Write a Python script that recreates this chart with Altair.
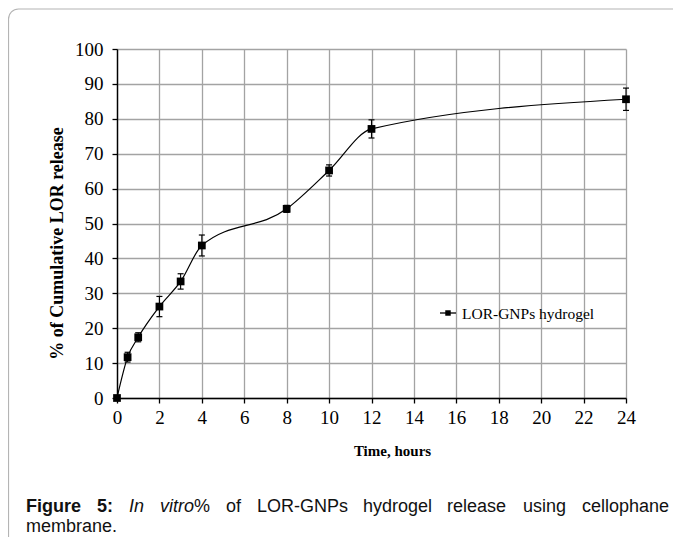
import altair as alt
import pandas as pd

# ---- data ----
time_h = [0, 0.5, 1, 2, 3, 4, 8, 10, 12, 24]
release_pct = [0, 11.7, 17.4, 26.2, 33.4, 43.7, 54.2, 65.2, 77.1, 85.6]
err_sd = [0, 1.4, 1.3, 2.9, 2.2, 3.0, 1.0, 1.6, 2.6, 3.2]
x_ticks = list(range(0, 25, 2))
y_ticks = list(range(0, 101, 10))
series_name = "LOR-GNPs hydrogel"
x_title = "Time, hours"
y_title = "% of Cumulative  LOR release"

df = pd.DataFrame({
    "t": time_h,
    "r": release_pct,
    "lo": [r - s for r, s in zip(release_pct, err_sd)],
    "hi": [r + s for r, s in zip(release_pct, err_sd)],
})
df_err = df[df["t"] > 0]
one = pd.DataFrame({"k": [0]})

SERIF = "Liberation Serif"
SANS = "Liberation Sans"
W, H = 509, 349

xs = alt.Scale(domain=[0, 24], nice=False, zero=False)
ys = alt.Scale(domain=[0, 100], nice=False)

x_axis = alt.Axis(values=x_ticks, grid=True, title=x_title, titleX=275, titleY=52,
                  titleBaseline="middle", titleAlign="center", titleAnchor="start",
                  labelFlush=False, labelOverlap=False, titleFontSize=15)
y_axis = alt.Axis(values=y_ticks, grid=True, title=y_title, titleX=-60, titleY=194,
                  titleBaseline="middle", titleAlign="center", titleAnchor="start",
                  labelFlush=False, labelOverlap=False, titleFontSize=18)

base = alt.Chart(df)

frame = alt.Chart(one).mark_rect(
    fillOpacity=0, stroke="#b4b4b4", strokeWidth=1.2, cornerRadius=10
).encode(x=alt.value(-108.5), x2=alt.value(700), y=alt.value(-40), y2=alt.value(620))

line = base.mark_line(interpolate="monotone", color="black", strokeWidth=1.2).encode(
    x=alt.X("t:Q", scale=xs, axis=x_axis),
    y=alt.Y("r:Q", scale=ys, axis=y_axis),
)

ebar = alt.Chart(df_err).mark_rule(color="black", strokeWidth=1.1).encode(
    x=alt.X("t:Q", scale=xs, axis=x_axis),
    y=alt.Y("lo:Q", scale=ys, axis=y_axis), y2="hi:Q")
cap_hi = alt.Chart(df_err).mark_tick(orient="horizontal", color="black", size=6,
                                     thickness=1.2, opacity=1).encode(
    x=alt.X("t:Q", scale=xs, axis=x_axis),
    y=alt.Y("hi:Q", scale=ys, axis=y_axis))
cap_lo = alt.Chart(df_err).mark_tick(orient="horizontal", color="black", size=6,
                                     thickness=1.2, opacity=1).encode(
    x=alt.X("t:Q", scale=xs, axis=x_axis),
    y=alt.Y("lo:Q", scale=ys, axis=y_axis))
pts = base.mark_square(color="black", size=60, opacity=1).encode(
    x=alt.X("t:Q", scale=xs, axis=x_axis),
    y=alt.Y("r:Q", scale=ys, axis=y_axis))

# legend (drawn by hand)
leg_line = alt.Chart(one).mark_rule(color="black", strokeWidth=1.3).encode(
    x=alt.value(323), x2=alt.value(339), y=alt.value(264))
leg_sq = alt.Chart(one).mark_square(color="black", size=30, opacity=1).encode(
    x=alt.value(331), y=alt.value(264))
leg_txt = alt.Chart(one).mark_text(font=SERIF, fontSize=15.5, align="left",
                                   baseline="middle", color="black").encode(
    x=alt.value(345), y=alt.value(265), text=alt.value(series_name))

# caption, justified word by word
cap_y1, cap_y2 = 463, 483
words = [
    ("Figure", 26, "bold", "normal"),
    ("5:", 97, "bold", "normal"),
    ("In", 129, "normal", "italic"),
    ("vitro", 160, "normal", "italic"),
    ("%", 194, "normal", "normal"),
    ("of", 226, "normal", "normal"),
    ("LOR-GNPs", 257, "normal", "normal"),
    ("hydrogel", 363, "normal", "normal"),
    ("release", 447, "normal", "normal"),
    ("using", 523, "normal", "normal"),
    ("cellophane", 582, "normal", "normal"),
]
caption_layers = []
for w, px, fw, fs in words:
    caption_layers.append(
        alt.Chart(one).mark_text(font=SANS, fontSize=18, fontWeight=fw, fontStyle=fs,
                                 align="left", baseline="alphabetic", color="#111").encode(
            x=alt.value(px - 117), y=alt.value(cap_y1), text=alt.value(w)))
caption_layers.append(
    alt.Chart(one).mark_text(font=SANS, fontSize=18, align="left", baseline="alphabetic",
                             color="#111").encode(
        x=alt.value(26 - 117), y=alt.value(cap_y2), text=alt.value("membrane.")))

chart = alt.layer(
    frame, line, ebar, cap_hi, cap_lo, pts, leg_line, leg_sq, leg_txt, *caption_layers
).properties(
    width=W, height=H,
    autosize=alt.AutoSizeParams(type="none"),
    padding={"left": 109, "top": 41, "right": 47, "bottom": 139},
).configure_view(stroke=None).configure_axis(
    gridColor="#a3a3a3", gridWidth=1.3, gridOpacity=1,
    domainColor="black", domainWidth=1.4,
    tickColor="black", tickSize=5, tickWidth=1.3,
    labelFont=SERIF, labelFontSize=19, labelColor="black", labelOverlap=False,
    titleFont=SERIF, titleFontWeight="bold", titleColor="black",
).configure_axisX(labelPadding=5).configure_axisY(labelPadding=9)

chart.save("out.html", embed_options={"renderer": "svg", "actions": False})
